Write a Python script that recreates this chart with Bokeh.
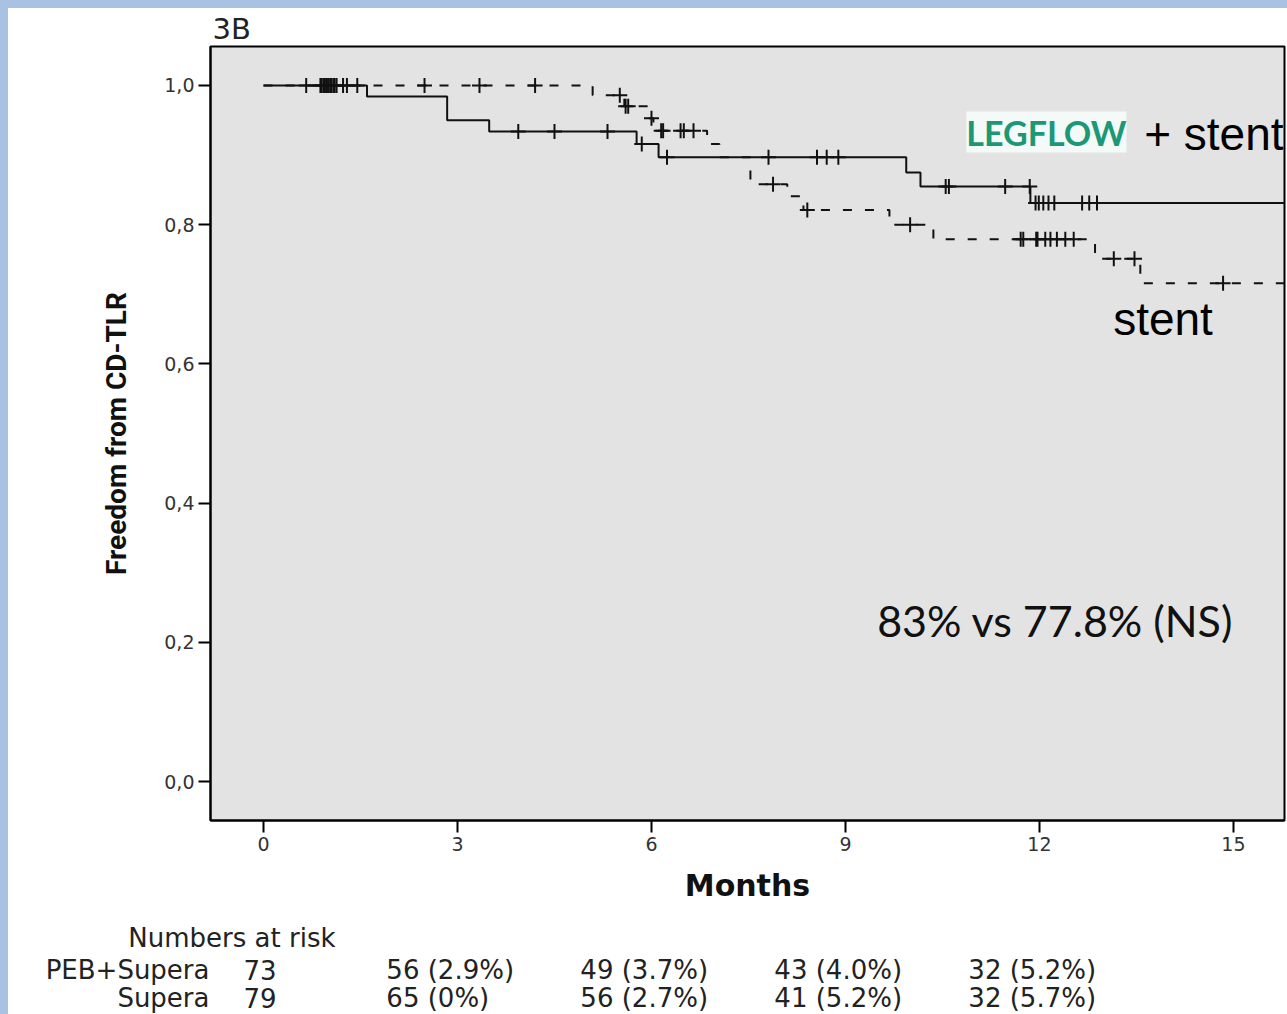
import numpy as np
from bokeh.plotting import figure
from bokeh.layouts import column
from bokeh.models import Range1d, Label, FixedTicker
from bokeh.core.properties import value
from bokeh.embed import file_html
from bokeh.resources import INLINE

# ---- Kaplan-Meier data ----
# PEB + Supera ("LEGFLOW + stent"), solid line
peb_event_months = [0.0, 1.60, 2.84, 3.49, 5.77, 6.11, 9.94, 10.16, 11.86]
peb_survival = [1.0, 0.984, 0.950, 0.934, 0.916, 0.897, 0.875, 0.855, 0.831]
peb_censor_months = [0.66, 0.90, 0.95, 1.00, 1.05, 1.10, 1.23, 1.29, 1.45,
                     3.94, 4.50, 5.32, 5.85, 6.24, 7.81, 8.56, 8.71, 8.89,
                     10.55, 10.60, 11.47, 11.85, 11.94, 11.99, 12.06, 12.14,
                     12.23, 12.66, 12.77, 12.89]

# Supera ("stent"), dashed line
supera_event_months = [0.0, 5.09, 5.58, 5.95, 6.03, 6.86, 7.05, 7.53, 8.10,
                       8.35, 9.68, 10.36, 12.86, 13.56]
supera_survival = [1.0, 0.986, 0.970, 0.953, 0.935, 0.916, 0.897, 0.858,
                   0.841, 0.821, 0.800, 0.779, 0.751, 0.716]
supera_censor_months = [0.88, 0.93, 0.98, 1.03, 1.08, 1.13, 2.49, 3.34, 4.20,
                        5.51, 5.60, 5.64, 6.00, 6.15, 6.18, 6.45, 6.50, 6.65,
                        7.88, 8.41, 10.00, 11.71, 11.75, 11.95, 11.97, 12.09,
                        12.17, 12.27, 12.40, 12.53, 13.15, 13.47, 14.84]

followup_end_months = 16.0

# ---- numbers at risk ----
risk_months = [0, 3, 6, 9, 12]
risk_groups = ["PEB+Supera", "Supera"]
peb_at_risk = ["73", "56 (2.9%)", "49 (3.7%)", "43 (4.0%)", "32 (5.2%)"]
supera_at_risk = ["79", "65 (0%)", "56 (2.7%)", "41 (5.2%)", "32 (5.7%)"]

# ---- ticks ----
x_ticks = [0, 3, 6, 9, 12, 15]
y_ticks = [0.0, 0.2, 0.4, 0.6, 0.8, 1.0]
y_tick_labels = ["0,0", "0,2", "0,4", "0,6", "0,8", "1,0"]


def surv_at(times, ev_months, surv):
    ev = np.asarray(ev_months)
    s = np.asarray(surv)
    idx = np.searchsorted(ev, np.asarray(times), side="right") - 1
    return s[idx]


FIG_W = 1279
TOP_H = 912
RISK_H = 94

p = figure(width=FIG_W, height=TOP_H, output_backend="svg",
           toolbar_location=None,
           x_range=Range1d(-0.82, 15.79), y_range=Range1d(-0.056, 1.056),
           min_border_left=202, min_border_right=3, min_border_top=38,
           min_border_bottom=TOP_H - 812)
p.frame_align = False
p.background_fill_color = "#e3e3e3"
p.border_fill_color = "white"
p.outline_line_color = "black"
p.outline_line_width = 2
p.xgrid.visible = False
p.ygrid.visible = False

p.title.text = "3B"
p.title.text_font = "DejaVu Sans"
p.title.text_font_size = "29px"
p.title.text_font_style = "normal"
p.title.text_color = "#222222"
p.title.align = "left"
p.title.offset = 2
p.title.standoff = 2

# curves
p.step(peb_event_months + [followup_end_months],
       peb_survival + [peb_survival[-1]], mode="after",
       line_color="#111111", line_width=2)
p.step(supera_event_months + [followup_end_months],
       supera_survival + [supera_survival[-1]], mode="after",
       line_color="#111111", line_width=2, line_dash="9 13")

p.scatter(peb_censor_months,
          surv_at(peb_censor_months, peb_event_months, peb_survival),
          marker="cross", size=15, line_color="#111111", line_width=2)
p.scatter(supera_censor_months,
          surv_at(supera_censor_months, supera_event_months, supera_survival),
          marker="cross", size=15, line_color="#111111", line_width=2)

# axes
for ax in (p.xaxis[0], p.yaxis[0]):
    ax.axis_line_color = "black"
    ax.axis_line_width = 2
    ax.major_tick_line_color = "black"
    ax.major_tick_line_width = 2
    ax.major_tick_out = 12
    ax.major_tick_in = 0
    ax.minor_tick_line_color = None
    ax.major_label_text_font = "DejaVu Sans"
    ax.major_label_text_font_size = "19px"
    ax.major_label_text_color = "#333333"
    ax.major_label_standoff = 4

p.xaxis.ticker = FixedTicker(ticks=x_ticks)
p.yaxis.ticker = FixedTicker(ticks=y_ticks)
p.yaxis.major_label_overrides = {t: l for t, l in zip(y_ticks, y_tick_labels)}

p.xaxis.axis_label = "Months"
p.xaxis.axis_label_text_font = "DejaVu Sans"
p.xaxis.axis_label_text_font_style = "bold"
p.xaxis.axis_label_text_font_size = "30px"
p.xaxis.axis_label_text_color = "#111111"
p.xaxis.axis_label_standoff = 14

p.yaxis.axis_label = "Freedom from CD-TLR"
p.yaxis.axis_label_text_font = "Roboto"
p.yaxis.axis_label_text_font_style = "bold"
p.yaxis.axis_label_text_font_size = "28px"
p.yaxis.axis_label_text_color = "#111111"
p.yaxis.axis_label_standoff = 28

# annotations inside the plot area
p.add_layout(Label(x=10.87, y=0.933, text="LEGFLOW", text_font="Lato",
                   text_font_style="bold", text_font_size="34px",
                   text_color="#1c9877", text_baseline="alphabetic",
                   background_fill_color="#f4faf7", background_fill_alpha=1.0))
p.add_layout(Label(x=13.62, y=0.930, text="+ stent",
                   text_font="Liberation Sans", text_font_size="46px",
                   text_color="black", text_baseline="alphabetic"))
p.add_layout(Label(x=13.14, y=0.664, text="stent",
                   text_font="Liberation Sans", text_font_size="46px",
                   text_color="black", text_baseline="alphabetic"))
p.add_layout(Label(x=9.49, y=0.2315, text="83% vs 77.8% (NS)",
                   text_font="Lato", text_font_size="43px",
                   text_color="#111111", text_baseline="alphabetic"))

# ---- numbers-at-risk table (own panel, same month scale) ----
r = figure(width=FIG_W, height=RISK_H, output_backend="svg",
           toolbar_location=None, x_axis_type=None, y_axis_type=None,
           x_range=Range1d(-3.943, 15.835), y_range=Range1d(RISK_H, 0),
           min_border=0)
r.frame_align = False
r.outline_line_color = None
r.background_fill_color = "white"
r.border_fill_color = "white"
r.xgrid.visible = False
r.ygrid.visible = False

risk_font = value("DejaVu Sans")
risk_size = value("26px")
r.text(x=[-2.09], y=[17], text=["Numbers at risk"], text_font=risk_font,
       text_font_size=risk_size, text_color="#222222", text_baseline="middle")
row_y = [49, 77]
for gi, vals in enumerate([peb_at_risk, supera_at_risk]):
    r.text(x=[-0.835], y=[row_y[gi]], text=[risk_groups[gi]],
           text_font=risk_font, text_font_size=risk_size, text_color="#222222",
           text_align="right", text_baseline="middle")
    cols_x = [(t - 1.1) if t > 0 else -0.31 for t in risk_months]
    r.text(x=cols_x, y=[row_y[gi]] * len(vals), text=vals,
           text_font=risk_font, text_font_size=risk_size, text_color="#222222",
           text_baseline="middle")

layout = column(p, r, spacing=0)

html = file_html(layout, INLINE)
style = ("<style>html,body{overflow:hidden !important;}"
         "body{padding:8px 0 0 8px !important;"
         "background:linear-gradient(#a9c1e3,#a9c1e3) left top/8px 100% no-repeat,"
         "linear-gradient(#a9c1e3,#a9c1e3) left top/100% 8px no-repeat,"
         "#ffffff !important;}"
         "</style>")
html = html.replace("</head>", style + "</head>", 1)
open("out.html", "w").write(html)
